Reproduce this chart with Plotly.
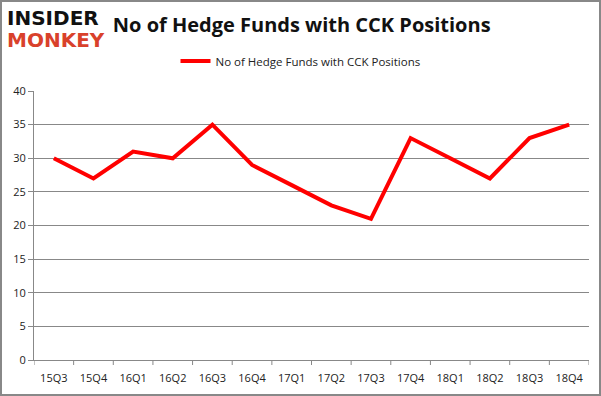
import plotly.graph_objects as go

quarters = ["15Q3", "15Q4", "16Q1", "16Q2", "16Q3", "16Q4", "17Q1",
            "17Q2", "17Q3", "17Q4", "18Q1", "18Q2", "18Q3", "18Q4"]
funds = [30, 27, 31, 30, 35, 29, 26, 23, 21, 33, 30, 27, 33, 35]
y_ticks = [0, 5, 10, 15, 20, 25, 30, 35, 40]
series_name = "No of Hedge Funds with CCK Positions"

W, H = 601, 396
L, R, T, B = 34, 12, 91, 36
PW, PH = W - L - R, H - T - B

fig = go.Figure()
fig.add_trace(go.Scatter(
    x=list(range(len(quarters))), y=funds, mode="lines", name=series_name,
    line=dict(color="#ff0000", width=4),
))

fig.update_layout(
    width=W, height=H,
    paper_bgcolor="white", plot_bgcolor="white",
    margin=dict(l=L, r=R, t=T, b=B, autoexpand=False),
    font=dict(family="Open Sans, DejaVu Sans, sans-serif", size=11, color="#222"),
    showlegend=True,
    legend=dict(orientation="h", xref="container", yref="container",
                x=0.5, xanchor="center", y=1 - 61 / H, yanchor="middle",
                font=dict(size=11.5, color="#222"), itemwidth=30),
    title=dict(text="<b>No of Hedge Funds with CCK Positions</b>", xref="container",
               yref="container", x=0.502, xanchor="center",
               y=1 - 25 / H, yanchor="middle",
               font=dict(size=20, color="#111", family="Open Sans, DejaVu Sans, sans-serif")),
    xaxis=dict(
        tickmode="array", tickvals=list(range(len(quarters))), ticktext=quarters,
        range=[-0.5, len(quarters) - 0.5], showgrid=False, zeroline=False,
        showline=True, linecolor="#888", linewidth=1, automargin=False,
        ticks="", ticklabelstandoff=8, tickfont=dict(size=11, color="#222"),
    ),
    yaxis=dict(
        range=[0, 40], tickvals=y_ticks, showgrid=True, gridcolor="#888", gridwidth=1,
        zeroline=False, showline=True, linecolor="#888", linewidth=1, automargin=False,
        ticks="outside", ticklen=5, tickcolor="#888", tickfont=dict(size=11, color="#222"),
    ),
    shapes=[
        dict(type="rect", xref="paper", yref="paper", x0=-(L - 1) / PW, x1=1 + (R - 1) / PW,
             y0=-(B - 1) / PH, y1=1 + (T - 1) / PH, line=dict(color="#888", width=2)),
    ] + [
        dict(type="line", xref="x", yref="paper", x0=i - 0.5, x1=i - 0.5, y0=0, y1=-5 / PH,
             line=dict(color="#888", width=1))
        for i in range(len(quarters) + 1)
    ],
    annotations=[
        dict(text="<b>INSIDER</b>", xref="paper", yref="paper", x=-(L - 5) / PW, y=1 + (T - 18) / PH,
             xanchor="left", yanchor="middle", showarrow=False,
             font=dict(size=20, color="#111", family="DejaVu Sans, sans-serif")),
        dict(text="<b>MONKEY</b>", xref="paper", yref="paper", x=-(L - 5) / PW, y=1 + (T - 40) / PH,
             xanchor="left", yanchor="middle", showarrow=False,
             font=dict(size=20, color="#d9412b", family="DejaVu Sans, sans-serif")),
    ],
)

fig.write_html("out.html", config={"displayModeBar": False},
               post_script="document.body.style.margin='0';")
